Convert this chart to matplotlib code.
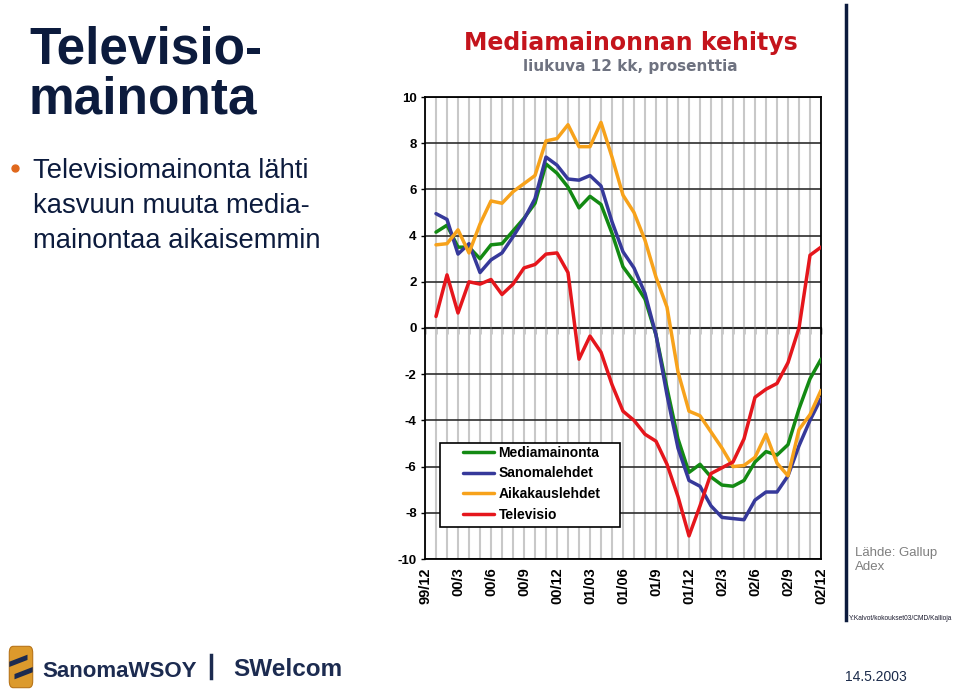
import numpy as np
import matplotlib.pyplot as plt
from matplotlib.patches import Rectangle, FancyBboxPatch, Polygon
from matplotlib.lines import Line2D

plt.rcParams['font.family'] = ['Liberation Sans', 'DejaVu Sans']
plt.rcParams['axes.unicode_minus'] = False

# months 1..36 = 00/01 .. 02/12 (0 = 99/12)
months = np.arange(1, 37)
tick_pos = np.arange(0, 37, 3)
tick_labels = ['99/12', '00/3', '00/6', '00/9', '00/12', '01/03', '01/06',
               '01/9', '01/12', '02/3', '02/6', '02/9', '02/12']

series_names = ['Mediamainonta', 'Sanomalehdet', 'Aikakauslehdet', 'Televisio']

media = [4.15, 4.45, 3.5, 3.5, 3.0, 3.6, 3.65, 4.2, 4.75, 5.4, 7.1, 6.7,
         6.1, 5.2, 5.7, 5.35, 4.1, 2.65, 2.0, 1.25, -0.3, -2.6, -4.8, -6.25,
         -5.9, -6.45, -6.8, -6.85, -6.6, -5.8, -5.35, -5.5, -5.05, -3.5, -2.2, -1.35]
sanomalehdet = [4.95, 4.7, 3.2, 3.65, 2.4, 2.95, 3.25, 3.95, 4.7, 5.6, 7.4, 7.05,
                6.45, 6.4, 6.6, 6.15, 4.6, 3.3, 2.6, 1.5, -0.3, -2.9, -5.2, -6.6,
                -6.85, -7.7, -8.2, -8.25, -8.3, -7.45, -7.1, -7.1, -6.4, -5.1, -4.0, -3.05]
aikakauslehdet = [3.6, 3.65, 4.25, 3.25, 4.5, 5.5, 5.4, 5.9, 6.25, 6.6, 8.1, 8.2,
                  8.8, 7.85, 7.85, 8.9, 7.4, 5.75, 5.0, 3.8, 2.2, 0.9, -1.9, -3.6,
                  -3.8, -4.5, -5.2, -6.0, -5.95, -5.6, -4.6, -5.85, -6.4, -4.4, -3.75, -2.7]
televisio = [0.5, 2.3, 0.65, 2.0, 1.9, 2.1, 1.45, 1.9, 2.6, 2.75, 3.2, 3.25,
             2.4, -1.35, -0.35, -1.05, -2.45, -3.6, -4.0, -4.6, -4.9, -5.9, -7.3, -9.0,
             -7.7, -6.3, -6.05, -5.8, -4.8, -3.0, -2.65, -2.4, -1.5, 0.0, 3.15, 3.5]

colors = ['#138a13', '#36399a', '#f7a21b', '#e5161c']
navy = '#0c1b3d'

W, H = 959, 692
def fx(x):
    return x / W
def fy(y):
    return 1 - y / H

fig = plt.figure(figsize=(W / 100, H / 100), dpi=100)
fig.patch.set_facecolor('white')

ax = fig.add_axes([fx(425), fy(559), 396 / W, 462 / H])
ax.set_xlim(0, 36)
ax.set_ylim(-10, 10)
ax.set_axisbelow(True)

for vals, c, name in zip([media, sanomalehdet, aikakauslehdet, televisio], colors, series_names):
    ax.plot(months, vals, color=c, lw=2.5, label=name,
            solid_joinstyle='round', solid_capstyle='round', zorder=3)

ax.set_yticks(np.arange(-10, 11, 2))
ax.set_xticks(tick_pos)
ax.set_xticklabels(tick_labels, rotation=90, fontweight='bold', fontsize=10.5)
ax.set_xticks(np.arange(0, 37), minor=True)
for lab in ax.get_yticklabels():
    lab.set_fontweight('bold')
    lab.set_fontsize(9.5)
ax.tick_params(axis='x', which='both', length=0, pad=6)
ax.tick_params(axis='y', length=3, width=1, pad=3)
ax.grid(axis='x', which='both', color='#c8c8c8', lw=1.5)
ax.grid(axis='y', which='major', color='#2e2e2e', lw=1.2)
for sp in ax.spines.values():
    sp.set_color('black')
    sp.set_linewidth(1.3)

# category axis crossing at zero
sec = ax.secondary_xaxis(0.5)
sec.set_alignment('bottom')
sec.set_xticks(np.arange(0, 37))
sec.tick_params(axis='x', length=4, width=1, labelbottom=False, labeltop=False)
sec.spines['bottom'].set_linewidth(1.5)

# legend
ax.add_patch(Rectangle((0.038, 0.069), 0.455, 0.182, transform=ax.transAxes,
                       facecolor='white', edgecolor='black', lw=1.2, zorder=4))
leg = ax.legend(loc='upper left', bbox_to_anchor=(0.096, 0.245), frameon=False,
                prop={'weight': 'bold', 'size': 10}, handlelength=2.2,
                handletextpad=0.35, labelspacing=0.48, borderpad=0, borderaxespad=0)
leg.set_zorder(5)
for h in leg.get_lines():
    h.set_linewidth(2.5)

# titles
fig.text(fx(631), fy(43), 'Mediamainonnan kehitys', ha='center', va='center',
         fontsize=17, fontweight='bold', color='#c4141c', family='DejaVu Sans')
fig.text(fx(630), fy(66), 'liukuva 12 kk, prosenttia', ha='center', va='center',
         fontsize=11, fontweight='bold', color='#6e7280', family='DejaVu Sans')

# left side slide text
fig.text(fx(29), fy(63), 'Televisio-', ha='left', va='baseline', fontsize=37,
         fontweight='bold', color=navy)
fig.text(fx(29), fy(113), 'mainonta', ha='left', va='baseline', fontsize=37,
         fontweight='bold', color=navy)
fig.add_artist(Line2D([fx(15)], [fy(168)], marker='o', markersize=5,
                      color='#e0681c', transform=fig.transFigure))
for txt, yb in zip(['Televisiomainonta lähti', 'kasvuun muuta media-',
                    'mainontaa aikaisemmin'], [178, 213, 248]):
    fig.text(fx(33), fy(yb), txt, ha='left', va='baseline', fontsize=19.7, color=navy)

# right side
fig.add_artist(Line2D([fx(846), fx(846)], [fy(5), fy(620)], color=navy, lw=2.5,
                      transform=fig.transFigure))
fig.text(fx(855), fy(556), 'Lähde: Gallup', ha='left', va='baseline', fontsize=9.5,
         color='#7f7f7f')
fig.text(fx(855), fy(570), 'Adex', ha='left', va='baseline', fontsize=9.5,
         color='#7f7f7f')
fig.text(fx(849), fy(618), 'Y:Kalvot/kokoukset03/CMD/Kallioja', ha='left', va='center',
         fontsize=4.8, color='#1a1a2e')
fig.text(fx(845), fy(677), '14.5.2003', ha='left', va='center', fontsize=10,
         color='#1a2a4a')

# footer logo
lax = fig.add_axes([fx(8), fy(689), 26 / W, 44 / H])
lax.set_xlim(0, 1)
lax.set_ylim(0, 1)
lax.axis('off')
lax.add_patch(FancyBboxPatch((0.05, 0.03), 0.9, 0.94, boxstyle='round,pad=0,rounding_size=0.15',
                             facecolor='#dc9a2c', edgecolor='#b87418', lw=0.8))
lax.add_patch(Polygon([[0.05, 0.62], [0.75, 0.78], [0.75, 0.66], [0.05, 0.5]], closed=True,
                      facecolor='#1c2b50', edgecolor='none'))
lax.add_patch(Polygon([[0.25, 0.34], [0.95, 0.5], [0.95, 0.38], [0.25, 0.22]], closed=True,
                      facecolor='#1c2b50', edgecolor='none'))
fig.text(fx(42), fy(677), 'SanomaWSOY', ha='left', va='baseline', fontsize=16,
         fontweight='bold', color='#1c2b50')
fig.add_artist(Line2D([fx(211), fx(211)], [fy(655), fy(678)], color='#1c2b50', lw=2.5,
                      transform=fig.transFigure))
fig.text(fx(233), fy(676), 'SWelcom', ha='left', va='baseline', fontsize=17.5,
         fontweight='bold', color='#1c2b50')

fig.savefig('out.png', dpi=100)
